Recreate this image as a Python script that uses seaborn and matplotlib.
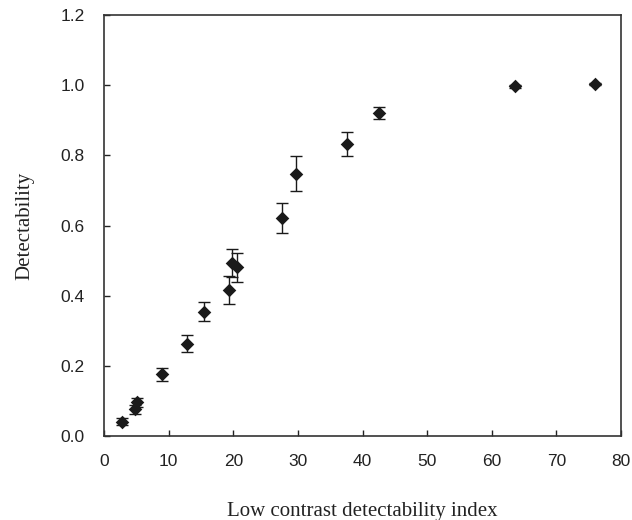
import numpy as np
import pandas as pd
import matplotlib
matplotlib.use("Agg")
import matplotlib.pyplot as plt
import seaborn as sns

# values
lcd_index = [2.8, 4.8, 5.1, 9.0, 12.8, 15.5, 19.4, 19.8, 20.6, 27.6, 29.7, 37.6, 42.5, 63.6, 76.0]
detectability = [0.040, 0.076, 0.096, 0.176, 0.263, 0.354, 0.416, 0.494, 0.481,
                 0.622, 0.748, 0.832, 0.921, 0.997, 1.003]
det_err = [0.010, 0.012, 0.012, 0.018, 0.024, 0.027, 0.039, 0.040, 0.041,
           0.042, 0.050, 0.035, 0.017, 0.005, 0.002]

df = pd.DataFrame({"x": lcd_index, "y": detectability, "err": det_err})

sns.set_style("ticks")
fig = plt.figure(figsize=(6.32, 5.2), dpi=100)
ax = fig.add_axes([0.1646, 0.1615, 0.818, 0.8095])

ax.errorbar(df["x"], df["y"], yerr=df["err"], fmt="none", ecolor="#1a1a1a",
            elinewidth=1.0, capsize=4, capthick=1.0, zorder=2)
sns.scatterplot(data=df, x="x", y="y", marker="D", s=48, color="#1a1a1a",
                edgecolor="#1a1a1a", linewidth=0, ax=ax, zorder=3)

ax.set_xlim(0, 80)
ax.set_ylim(0, 1.2)
ax.set_xticks(np.arange(0, 81, 10))
ax.set_yticks(np.arange(0, 1.21, 0.2))
ax.set_yticklabels([f"{v:.1f}" for v in np.arange(0, 1.21, 0.2)])
ax.tick_params(direction="in", length=4, width=1, labelsize=12.5,
               colors="#222222", labelfontfamily="Liberation Sans")
ax.tick_params(axis="x", pad=13)
ax.tick_params(axis="y", pad=14)
for sp in ax.spines.values():
    sp.set_visible(True)
    sp.set_linewidth(1.2)
    sp.set_color("#333333")

ax.set_xlabel("Low contrast detectability index", family="Liberation Serif",
              fontsize=15, labelpad=24, color="#222222")
ax.set_ylabel("Detectability", family="Liberation Serif",
              fontsize=15, labelpad=19, color="#222222")

fig.savefig("out.png", dpi=100)
